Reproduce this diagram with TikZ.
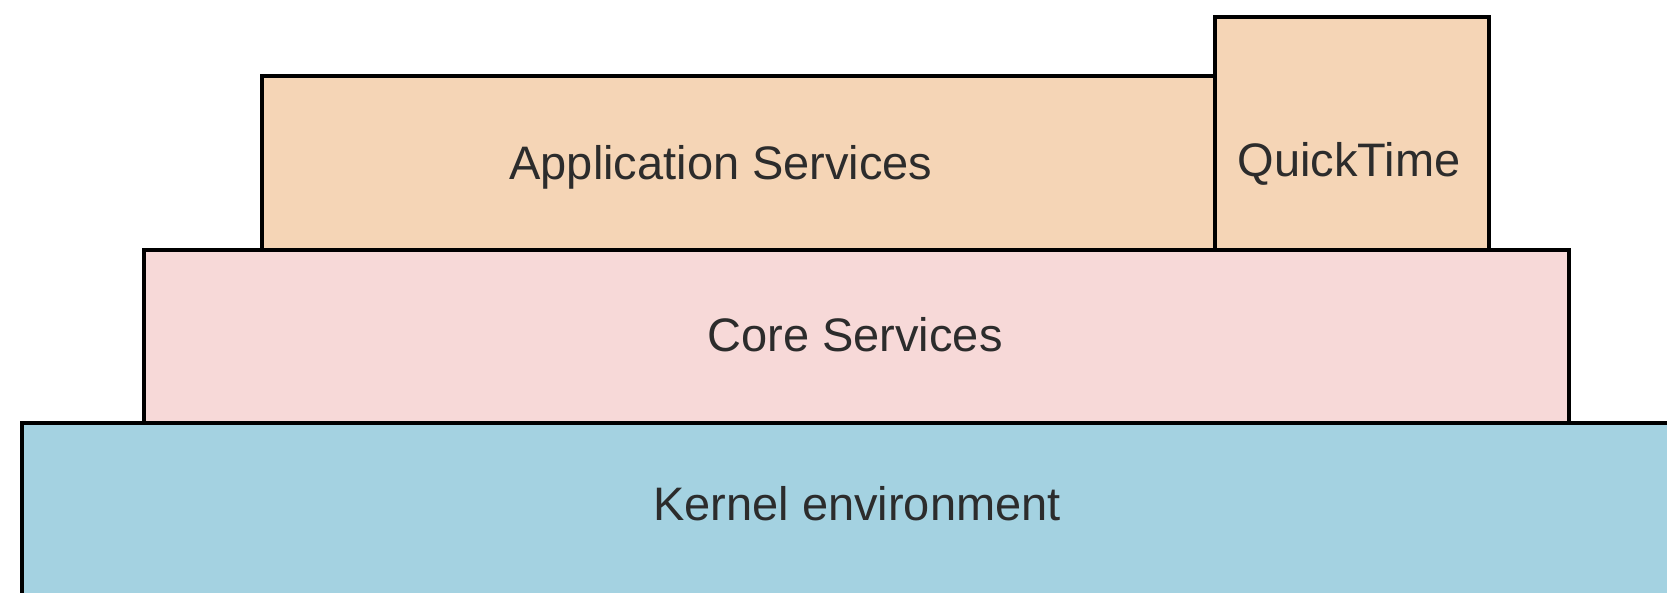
\documentclass[tikz,border=0pt]{standalone}
\usepackage{fontspec}
\setmainfont{Liberation Sans}
\definecolor{appfill}{HTML}{F5D5B6}
\definecolor{corefill}{HTML}{F7D9D8}
\definecolor{kernfill}{HTML}{A4D2E1}
\definecolor{txtcol}{HTML}{2C2C2C}
\begin{document}
\begin{tikzpicture}[x=1pt,y=-1pt,
  layerbox/.style={draw=black, line width=4pt, rectangle, inner sep=0pt, anchor=north west},
  layertext/.style={inner sep=0pt, anchor=base, text=txtcol, font=\fontsize{47}{56}\selectfont}]
\useasboundingbox (0,0) rectangle (1667,593);
\clip (0,0) rectangle (1667,593);
\fill[white] (0,0) rectangle (1667,593);
% Kernel
\node[layerbox, fill=kernfill, minimum width=1674pt, minimum height=200pt] (kernel) at (20,421) {};
% Core
\node[layerbox, fill=corefill, minimum width=1425pt, minimum height=173pt] (core) at (142,248) {};
% Application
\node[layerbox, fill=appfill, minimum width=953pt, minimum height=174pt] (app) at (260,74) {};
% QuickTime
\node[layerbox, fill=appfill, minimum width=274pt, minimum height=233pt] (qt) at (1213,15) {};
% Labels
\node[layertext] (apptext) at (721,180) {Application Services};
\node[layertext] (qttext) at (1349,177) {QuickTime};
\node[layertext] (coretext) at (855,352) {Core Services};
\node[layertext] (kerntext) at (857,520) {Kernel environment};
\end{tikzpicture}
\end{document}
